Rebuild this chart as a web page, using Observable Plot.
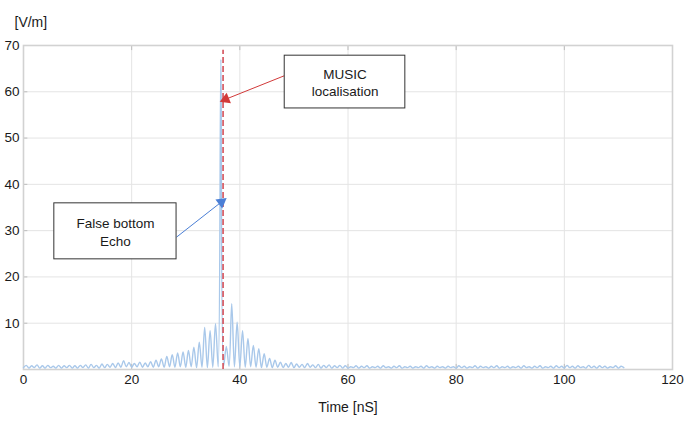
<!DOCTYPE html>
<html>
<head>
<meta charset="utf-8">
<script src="https://cdn.jsdelivr.net/npm/d3@7"></script>
<script src="https://cdn.jsdelivr.net/npm/@observablehq/plot@0.6"></script>
<style>
  html, body { margin: 0; padding: 0; background: #fff; }
  #chart { width: 686px; height: 422px; }
</style>
</head>
<body>
<div id="chart"></div>
<script>
// ---- Data ----
const timeStepNs = 0.5;           // sample spacing of the trace, ns (starts at 0)
const fieldVm = [
  // 0 - 9.5 ns
  0.4,0.9,0.3,0.8,0.4,1.0,0.3,0.8,0.3,0.9, 0.4,0.7,0.3,0.9,0.3,0.8,0.4,0.9,0.3,0.8,
  // 10 - 19.5
  0.3,0.9,0.4,1.0,0.3,1.1,0.4,0.9,0.3,1.2, 0.4,1.1,0.5,1.3,0.4,1.4,0.5,1.9,0.6,1.5,
  // 20 - 29.5
  0.5,1.3,0.6,1.6,0.5,1.4,0.6,1.7,0.5,2.0, 0.6,2.3,0.5,2.8,0.6,3.2,0.5,3.6,0.6,3.8,
  // 30 - 39.5
  0.5,4.1,0.6,4.8,0.4,5.9,0.5,9.1,0.4,8.4, 0.5,9.9,0.6,67,0.8,5.0,0.7,14.2,0.6,10.2,
  // 40 - 49.5
  0.6,8.4,0.5,6.7,0.6,5.2,0.5,4.5,0.4,3.4, 0.5,2.4,0.4,2.0,0.5,1.6,0.4,1.3,0.5,1.5,
  // 50 - 59.5
  0.4,1.2,0.5,1.1,0.4,1.3,0.5,1.0,0.4,1.1, 0.3,0.9,0.4,1.0,0.3,0.8,0.4,0.9,0.3,0.8,
  // 60 - 69.5
  0.3,0.6,0.4,0.8,0.3,0.7,0.4,0.8,0.3,0.6, 0.4,0.7,0.3,0.8,0.4,0.6,0.3,0.7,0.4,0.8,
  // 70 - 79.5
  0.3,0.6,0.4,0.7,0.3,0.6,0.4,0.7,0.3,0.8, 0.4,0.6,0.3,0.7,0.4,0.6,0.3,0.7,0.4,0.6,
  // 80 - 89.5
  0.3,0.8,0.4,0.7,0.3,0.6,0.4,0.8,0.3,0.7, 0.4,0.6,0.3,0.7,0.4,0.8,0.3,0.6,0.4,0.7,
  // 90 - 99.5
  0.3,0.6,0.4,0.7,0.3,0.8,0.4,0.6,0.3,0.7, 0.4,0.8,0.3,0.6,0.4,0.7,0.3,0.8,0.4,0.7,
  // 100 - 109.5
  0.3,0.9,0.4,0.7,0.3,0.8,0.4,0.6,0.3,0.9, 0.4,0.7,0.3,0.8,0.4,0.7,0.3,0.6,0.4,0.8,
  // 110 - 111
  0.3,0.7,0.4
];
const xTicks = [0, 20, 40, 60, 80, 100, 120];
const yTicks = [10, 20, 30, 40, 50, 60, 70];
const musicTimeNs = 36.9;          // MUSIC localisation (red dashed line)
const musicLineTop = 69;

// Annotation boxes (data coordinates)
const boxes = [
  {label: "MUSIC\nlocalisation", x1: 48.3, x2: 70.6, y1: 56.4, y2: 67.8, cx: 59.45, cy: 62.1},
  {label: "False bottom\nEcho",  x1: 5.7,  x2: 28.3, y1: 23.8, y2: 35.9, cx: 17.0,  cy: 29.85}
];
// Annotation arrows (data coordinates)
const arrows = [
  {x1: 48.3, y1: 63.5, x2: 37.4, y2: 58.4, color: "#d23a3a", angle: 248},
  {x1: 28.3, y1: 28.6, x2: 36.6, y2: 36.2, color: "#4b7fd6", angle: 53}
];

const series = fieldVm.map((v, i) => ({t: i * timeStepNs, v}));

const font = "'Liberation Sans', Arial, Helvetica, sans-serif";

const chart = Plot.plot({
  width: 686,
  height: 422,
  marginLeft: 23,
  marginRight: 14,
  marginTop: 45,
  marginBottom: 53,
  style: {fontFamily: font, fontSize: "13px", color: "#222", background: "#fff"},
  x: {domain: [0, 120], label: null},
  y: {domain: [0, 70], label: null},
  marks: [
    Plot.gridX(xTicks.slice(1, -1), {stroke: "#e4e4e4", strokeOpacity: 1}),
    Plot.gridY(yTicks.slice(0, -1), {stroke: "#e4e4e4", strokeOpacity: 1}),
    // small inward ticks
    Plot.ruleY(yTicks.slice(0, -1), {x1: 0, x2: 0.8, stroke: "#bdbdbd"}),
    Plot.ruleX(xTicks.slice(1, -1), {y1: 68.9, y2: 70, stroke: "#bdbdbd"}),
    Plot.ruleX(xTicks.slice(1, -1), {y1: 0, y2: 1.1, stroke: "#bdbdbd"}),
    Plot.frame({stroke: "#d2d2d2", strokeWidth: 1.6}),
    Plot.axisX(xTicks, {tickSize: 0, tickPadding: 5, fontSize: 13.5, fill: "#1a1a1a"}),
    Plot.axisY(yTicks, {tickSize: 0, tickPadding: 4, fontSize: 13.5, fill: "#1a1a1a"}),
    Plot.line(series, {x: "t", y: "v", stroke: "#a9c8ea", strokeWidth: 1.4, curve: "catmull-rom"}),
    Plot.ruleX([musicTimeNs], {y1: 0, y2: musicLineTop, stroke: "#d4505a", strokeWidth: 1.6, strokeDasharray: "6,3"}),
    // arrows
    Plot.link(arrows, {x1: "x1", y1: "y1", x2: "x2", y2: "y2", stroke: "color", strokeWidth: 1}),
    Plot.dot(arrows, {x: "x2", y: "y2", symbol: "triangle", r: 4.2, fill: "color", stroke: "none", rotate: "angle"}),
    // boxes
    Plot.rect(boxes, {x1: "x1", x2: "x2", y1: "y1", y2: "y2", fill: "#fff", stroke: "#333", strokeWidth: 1}),
    Plot.text(boxes, {x: "cx", y: "cy", text: "label", fontSize: 13.5, lineHeight: 1.3, fill: "#1a1a1a"}),
    // axis titles
    Plot.text(["[V/m]"], {frameAnchor: "top-left", dx: -9, dy: -28, textAnchor: "start", fontSize: 14, fill: "#1a1a1a"}),
    Plot.text(["Time [nS]"], {frameAnchor: "bottom", dy: 42, fontSize: 14, fill: "#1a1a1a"})
  ]
});

document.getElementById("chart").appendChild(chart);
</script>
</body>
</html>
